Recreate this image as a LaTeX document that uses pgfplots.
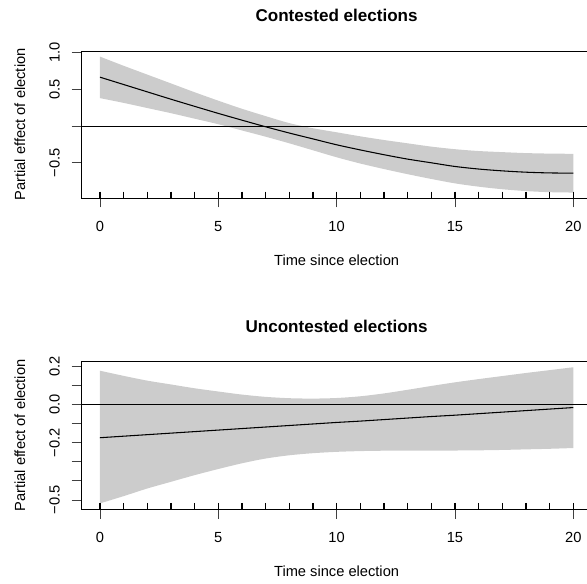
\documentclass[border=0pt]{standalone}
\usepackage{fontspec}
\setmainfont{Liberation Sans}
\usepackage{pgfplots}
\pgfplotsset{compat=1.18}
\usepackage{pgfplotstable}
\usepgfplotslibrary{fillbetween}
\definecolor{bandgray}{HTML}{CCCCCC}

\pgfplotstableread{
x m u l
0 0.665 0.945 0.380
1 0.565 0.820 0.315
2 0.465 0.700 0.245
3 0.365 0.580 0.175
4 0.268 0.460 0.100
5 0.172 0.345 0.025
6 0.080 0.235 -0.060
7 -0.010 0.135 -0.145
8 -0.095 0.040 -0.235
9 -0.175 -0.030 -0.330
10 -0.255 -0.085 -0.425
11 -0.325 -0.140 -0.510
12 -0.390 -0.190 -0.585
13 -0.450 -0.235 -0.655
14 -0.500 -0.280 -0.720
15 -0.550 -0.315 -0.780
16 -0.585 -0.340 -0.825
17 -0.610 -0.355 -0.860
18 -0.628 -0.368 -0.885
19 -0.638 -0.375 -0.900
20 -0.641 -0.378 -0.905
}\contested

\pgfplotstableread{
x m u l
0 -0.174 0.177 -0.518
1 -0.166 0.150 -0.480
2 -0.158 0.125 -0.440
3 -0.150 0.105 -0.405
4 -0.142 0.085 -0.370
5 -0.134 0.068 -0.338
6 -0.126 0.052 -0.308
7 -0.118 0.040 -0.283
8 -0.110 0.033 -0.266
9 -0.102 0.031 -0.255
10 -0.094 0.034 -0.248
11 -0.087 0.043 -0.244
12 -0.079 0.058 -0.242
13 -0.071 0.077 -0.241
14 -0.063 0.097 -0.241
15 -0.056 0.116 -0.241
16 -0.048 0.133 -0.240
17 -0.040 0.149 -0.238
18 -0.032 0.165 -0.235
19 -0.024 0.180 -0.232
20 -0.016 0.195 -0.228
}\uncontested

\pgfplotsset{
  panel/.style={
    scale only axis, width=383.4pt,
    xmin=-0.8, xmax=20.8,
    axis line style={black, line width=0.6pt},
    tick style={black!75, line width=0.6pt},
    tick align=outside, major tick length=7pt,
    xtick={0,5,10,15,20}, xticklabels={0,5,10,15,20},
    xtick pos=bottom, ytick pos=left,
    minor tick num=0,
    tick label style={font=\fontsize{11}{13}\selectfont},
    xticklabel style={anchor=base, yshift=-18pt},
    yticklabel style={xshift=-9pt, rotate=90, anchor=base},
    every axis x label/.style={at={(axis description cs:0.5,0)}, yshift=-50.5pt, anchor=base, font=\fontsize{11}{13}\selectfont},
    every axis y label/.style={at={(axis description cs:0,0.5)}, xshift=-42pt, rotate=90, anchor=base, font=\fontsize{11}{13}\selectfont},
    every axis title/.style={at={(axis description cs:0.5,1)}, yshift=22pt, anchor=base, font=\bfseries\fontsize{12.8}{15}\selectfont},
    xlabel={Time since election},
    ylabel={Partial effect of election},
    clip=false,
  },
}

\begin{document}
\begin{tikzpicture}
\begin{axis}[panel, at={(60.75pt,289.5pt)}, anchor=south west, height=110.3pt,
  ymin=-0.979, ymax=1.022,
  ytick={-0.5,0,0.5,1}, yticklabels={−0.5,{},0.5,1.0},
  title={Contested elections}]
  \addplot[name path=cu, draw=none, smooth, forget plot] table[x=x, y=u] {\contested};
  \addplot[name path=cl, draw=none, smooth, forget plot] table[x=x, y=l] {\contested};
  \addplot[bandgray, draw=none] fill between[of=cu and cl];
  \addplot[black, line width=0.8pt, smooth] table[x=x, y=m] {\contested};
  \addplot[black, line width=0.6pt] coordinates {(-0.8,0) (20.8,0)};
  \addplot[only marks, mark=|, mark size=2.4pt, line width=0.9pt, black, mark options={yshift=2.4pt}] table[x=x, y expr=-0.979] {\contested};
\end{axis}
\begin{axis}[panel, at={(60.75pt,56pt)}, anchor=south west, height=110.7pt,
  ymin=-0.549, ymax=0.224,
  ytick={-0.5,-0.4,-0.3,-0.2,-0.1,0,0.1,0.2},
  yticklabels={−0.5,{},{},−0.2,{},0.0,{},0.2},
  title={Uncontested elections}]
  \addplot[name path=uu, draw=none, smooth, forget plot] table[x=x, y=u] {\uncontested};
  \addplot[name path=ul, draw=none, smooth, forget plot] table[x=x, y=l] {\uncontested};
  \addplot[bandgray, draw=none] fill between[of=uu and ul];
  \addplot[black, line width=0.8pt] table[x=x, y=m] {\uncontested};
  \addplot[black, line width=0.6pt] coordinates {(-0.8,0) (20.8,0)};
  \addplot[only marks, mark=|, mark size=2.4pt, line width=0.9pt, black, mark options={yshift=2.4pt}] table[x=x, y expr=-0.549] {\uncontested};
\end{axis}
\pgfresetboundingbox
\path[use as bounding box] (0,0) rectangle (440.25pt,438pt);
\end{tikzpicture}
\end{document}
